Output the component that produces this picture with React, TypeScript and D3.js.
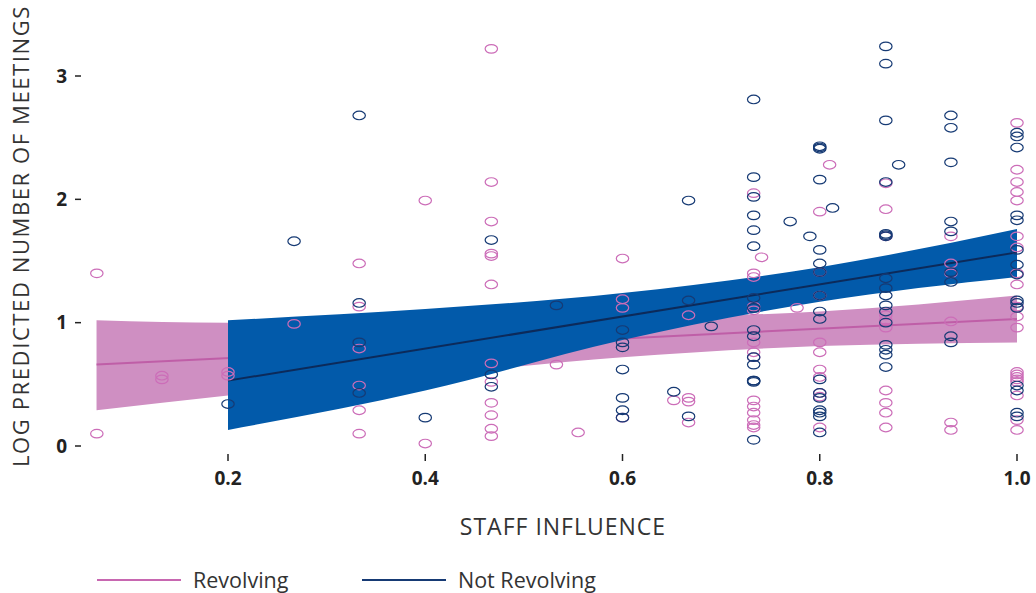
import React from "react";
import * as d3 from "d3";

// Staff influence (share of 15 staffers) vs. log predicted number of meetings
type Pt = [number, number];

const revolvingPoints: Pt[] = [
  [0.067, 1.40], [0.067, 0.10],
  [0.133, 0.57], [0.133, 0.54],
  [0.2, 0.60], [0.2, 0.57],
  [0.267, 0.99],
  [0.333, 1.48], [0.333, 1.13], [0.333, 0.79], [0.333, 0.49], [0.333, 0.29], [0.333, 0.10],
  [0.4, 1.99], [0.4, 0.02],
  [0.467, 3.22], [0.467, 2.14], [0.467, 1.82], [0.467, 1.56], [0.467, 1.54], [0.467, 1.31],
  [0.467, 0.67], [0.467, 0.52], [0.467, 0.35], [0.467, 0.25], [0.467, 0.14], [0.467, 0.08],
  [0.533, 0.66], [0.555, 0.11],
  [0.6, 1.52], [0.6, 1.19], [0.6, 1.12], [0.6, 0.23],
  [0.652, 0.37],
  [0.667, 1.06], [0.667, 0.39], [0.667, 0.36], [0.667, 0.19],
  [0.733, 2.05], [0.733, 1.40], [0.733, 1.37], [0.733, 1.13], [0.733, 1.10], [0.733, 0.84],
  [0.733, 0.76], [0.733, 0.72], [0.733, 0.37], [0.733, 0.32], [0.733, 0.27], [0.733, 0.21],
  [0.733, 0.17], [0.733, 0.15],
  [0.741, 1.53], [0.777, 1.12],
  [0.8, 1.90], [0.8, 1.41], [0.8, 1.22], [0.8, 0.84], [0.8, 0.76], [0.8, 0.62], [0.8, 0.56],
  [0.8, 0.43], [0.8, 0.40], [0.8, 0.15],
  [0.81, 2.28],
  [0.867, 2.13], [0.867, 1.92], [0.867, 1.70], [0.867, 1.06], [0.867, 1.02], [0.867, 0.96],
  [0.867, 0.45], [0.867, 0.35], [0.867, 0.27], [0.867, 0.15],
  [0.933, 1.70], [0.933, 1.48], [0.933, 1.40], [0.933, 1.01], [0.933, 0.19], [0.933, 0.13],
  [1.0, 2.62], [1.0, 2.24], [1.0, 2.14], [1.0, 2.06], [1.0, 1.99], [1.0, 1.70], [1.0, 1.61],
  [1.0, 1.40], [1.0, 1.31], [1.0, 1.13], [1.0, 1.05], [1.0, 0.96], [1.0, 0.60], [1.0, 0.58],
  [1.0, 0.56], [1.0, 0.54], [1.0, 0.52], [1.0, 0.41], [1.0, 0.21], [1.0, 0.13],
];

const notRevolvingPoints: Pt[] = [
  [0.2, 0.34], [0.267, 1.66],
  [0.333, 2.68], [0.333, 1.16], [0.333, 0.84], [0.333, 0.43],
  [0.4, 0.23],
  [0.467, 1.67], [0.467, 0.58], [0.467, 0.48],
  [0.533, 1.14],
  [0.6, 0.94], [0.6, 0.84], [0.6, 0.80], [0.6, 0.62], [0.6, 0.39], [0.6, 0.29], [0.6, 0.23],
  [0.652, 0.44],
  [0.667, 1.99], [0.667, 1.18], [0.667, 0.24],
  [0.69, 0.97],
  [0.733, 2.81], [0.733, 2.18], [0.733, 2.02], [0.733, 1.87], [0.733, 1.75], [0.733, 1.62],
  [0.733, 1.20], [0.733, 1.12], [0.733, 0.94], [0.733, 0.89], [0.733, 0.72], [0.733, 0.66],
  [0.733, 0.53], [0.733, 0.53], [0.733, 0.52], [0.733, 0.05],
  [0.77, 1.82], [0.79, 1.70],
  [0.8, 2.43], [0.8, 2.42], [0.8, 2.41], [0.8, 2.16], [0.8, 1.59], [0.8, 1.48], [0.8, 1.41],
  [0.8, 1.22], [0.8, 1.09], [0.8, 1.03], [0.8, 0.54], [0.8, 0.43], [0.8, 0.39], [0.8, 0.29],
  [0.8, 0.27], [0.8, 0.24], [0.8, 0.11],
  [0.813, 1.93],
  [0.867, 3.24], [0.867, 3.10], [0.867, 2.64], [0.867, 2.14], [0.867, 1.72], [0.867, 1.71],
  [0.867, 1.70], [0.867, 1.36], [0.867, 1.28], [0.867, 1.22], [0.867, 1.14], [0.867, 1.09],
  [0.867, 1.00], [0.867, 0.82], [0.867, 0.78], [0.867, 0.74], [0.867, 0.64],
  [0.88, 2.28],
  [0.933, 2.68], [0.933, 2.58], [0.933, 2.30], [0.933, 1.82], [0.933, 1.74], [0.933, 1.41],
  [0.933, 1.33], [0.933, 0.89], [0.933, 0.84],
  [1.0, 2.54], [1.0, 2.51], [1.0, 2.42], [1.0, 1.87], [1.0, 1.83], [1.0, 1.59], [1.0, 1.47],
  [1.0, 1.39], [1.0, 1.18], [1.0, 1.16], [1.0, 1.12], [1.0, 0.49], [1.0, 0.45], [1.0, 0.27],
  [1.0, 0.24],
];

// Fitted lines and their confidence bands
const revolvingBandX = [0.0667, 0.2, 0.4, 0.6, 0.8, 1.0];
const revolvingLower = [0.29, 0.41, 0.57, 0.72, 0.81, 0.84];
const revolvingUpper = [1.02, 1.00, 1.01, 1.04, 1.09, 1.22];
const revolvingFitX = [0.0667, 1.0];
const revolvingFitY = [0.66, 1.03];

const notRevolvingBandX = [0.2, 0.4, 0.6, 0.8, 1.0];
const notRevolvingLower = [0.13, 0.45, 0.86, 1.17, 1.37];
const notRevolvingUpper = [1.02, 1.11, 1.24, 1.45, 1.76];
const notRevolvingFitX = [0.2, 1.0];
const notRevolvingFitY = [0.53, 1.57];

const xTicks = [0.2, 0.4, 0.6, 0.8, 1.0];
const yTicks = [0, 1, 2, 3];

const legendItems = [
  { label: "Revolving", color: "#c867b1" },
  { label: "Not Revolving", color: "#163a74" },
];

const W = 1036;
const H = 593;
const FONT = "'Open Sans', 'Noto Sans', sans-serif";

const PINK_BAND = "#cf8fc2";
const PINK_LINE = "#bf5ea7";
const PINK_PT = "#cc6db8";
const BLUE_BAND = "#025aaa";
const BLUE_LINE = "#0c2a5a";
const BLUE_PT = "#163a74";

export default function App() {
  const x = d3.scaleLinear().domain([0.2, 1.0]).range([228, 1017]);
  const y = d3.scaleLinear().domain([0, 3]).range([446, 76]);

  const band = (xs: number[], lo: number[], hi: number[]) =>
    d3
      .area<number>()
      .x((_, i) => x(xs[i]))
      .y0((_, i) => y(lo[i]))
      .y1((_, i) => y(hi[i]))
      .curve(d3.curveMonotoneX)(xs) || "";

  const line = (xs: number[], ys: number[]) =>
    d3
      .line<number>()
      .x((_, i) => x(xs[i]))
      .y((_, i) => y(ys[i]))(xs) || "";

  const dot = (p: Pt, i: number, color: string) => (
    <ellipse
      key={i}
      cx={x(p[0])}
      cy={y(p[1])}
      rx={6.2}
      ry={4.3}
      fill="none"
      stroke={color}
      strokeWidth={1.2}
    />
  );

  return (
    <svg
      width={W}
      height={H}
      style={{ position: "absolute", left: 0, top: 0, background: "#fff" }}
      fontFamily={FONT}
    >
      {/* Revolving: band then fit */}
      <path d={band(revolvingBandX, revolvingLower, revolvingUpper)} fill={PINK_BAND} />
      <path d={line(revolvingFitX, revolvingFitY)} stroke={PINK_LINE} strokeWidth={2} fill="none" />

      {/* Not revolving: band then fit, drawn over the revolving layer */}
      <path d={band(notRevolvingBandX, notRevolvingLower, notRevolvingUpper)} fill={BLUE_BAND} />
      <path d={line(notRevolvingFitX, notRevolvingFitY)} stroke={BLUE_LINE} strokeWidth={2} fill="none" />

      {/* observations */}
      <g>{revolvingPoints.map((p, i) => dot(p, i, PINK_PT))}</g>
      <g>{notRevolvingPoints.map((p, i) => dot(p, i, BLUE_PT))}</g>

      {/* x axis */}
      <g>
        {xTicks.map((t) => (
          <g key={t} transform={`translate(${x(t)},0)`}>
            <line y1={454} y2={461} stroke="#222" strokeWidth={1.5} />
            <text y={485} textAnchor="middle" fontSize={19} fontWeight={700} fill="#222">
              {t.toFixed(1)}
            </text>
          </g>
        ))}
      </g>
      <text x={563} y={535} textAnchor="middle" fontSize={23} letterSpacing={1} fill="#333">
        STAFF INFLUENCE
      </text>

      {/* y axis */}
      <g>
        {yTicks.map((t) => (
          <g key={t} transform={`translate(0,${y(t)})`}>
            <line x1={75} x2={81} stroke="#222" strokeWidth={1.5} />
            <text x={67} dy="0.35em" textAnchor="end" fontSize={19} fontWeight={700} fill="#222">
              {t}
            </text>
          </g>
        ))}
      </g>
      <text
        transform="translate(29,236) rotate(-90)"
        textAnchor="middle"
        fontSize={22}
        letterSpacing={1.6}
        fill="#333"
      >
        LOG PREDICTED NUMBER OF MEETINGS
      </text>

      {/* legend */}
      {legendItems.map((item, i) => {
        const lx = 97 + i * 265;
        return (
          <g key={item.label} transform={`translate(${lx},580)`}>
            <line x1={0} x2={84} stroke={item.color} strokeWidth={2} />
            <text x={96} dy="0.35em" fontSize={21.5} fill="#333">
              {item.label}
            </text>
          </g>
        );
      })}
    </svg>
  );
}
